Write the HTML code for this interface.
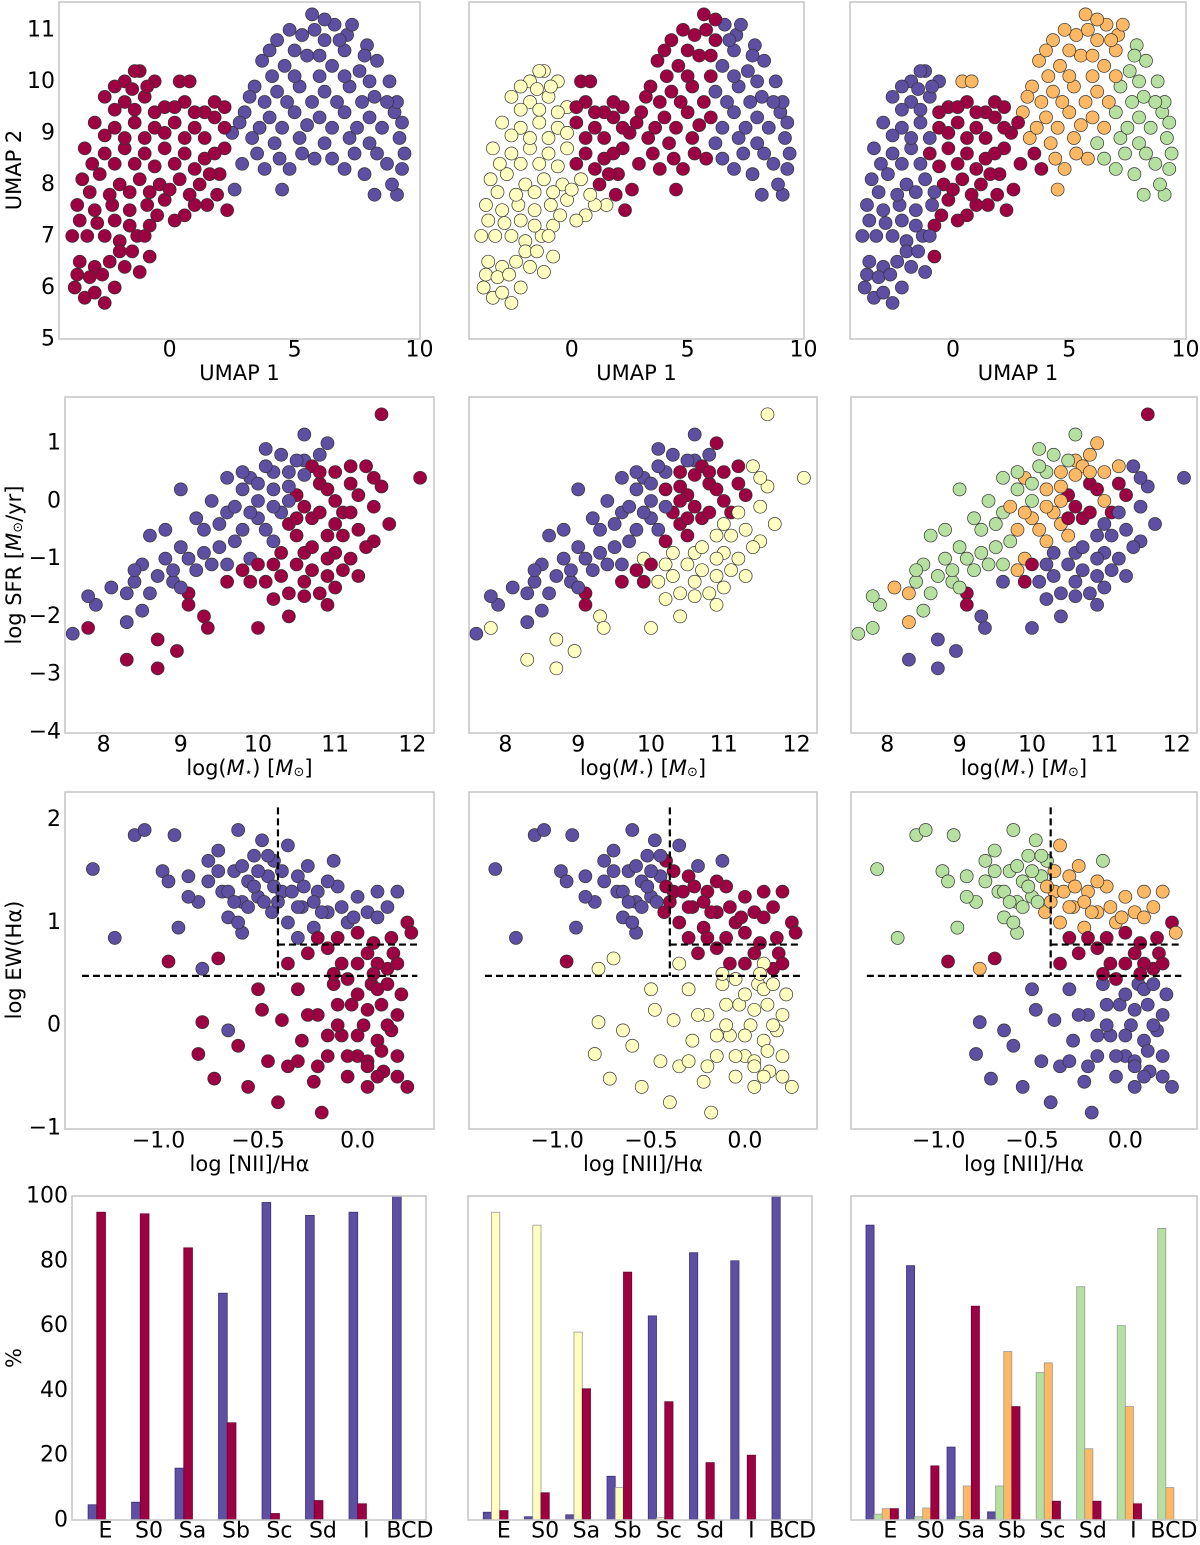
<!DOCTYPE html>
<html><head><meta charset="utf-8"><style>
html,body{margin:0;padding:0;background:#fff}
svg{display:block}
text{font-family:"DejaVu Sans","Liberation Sans",sans-serif;fill:#000}
</style></head><body>
<svg id="fig" width="1200" height="1545" viewBox="0 0 1200 1545" xmlns="http://www.w3.org/2000/svg"></svg>
<script>
// ---------- DATA ----------
const COLORS = {B:'#5e4fa2', R:'#9e0142', Y:'#ffffbf', G:'#b5e0a0', O:'#fdb863'};
// UMAP points: x, y, classes per column (col1,col2,col3)
const umapX = [-3.8,-3.4,-3.0,-2.6,-2.2,-3.6,-3.0,-2.4,-1.8,-1.2,-3.9,-3.3,-2.6,-2.0,-1.3,-0.8,-3.7,-3.0,-2.3,-1.6,-0.9,-0.2,0.6,1.5,2.3,-3.5,-2.8,-2.0,-1.2,-0.4,0.4,1.2,2.0,2.6,-3.4,-2.6,-1.8,-1.0,-0.2,0.6,1.4,2.2,-3.0,-2.2,-1.4,-0.6,0.2,1.0,1.8,2.5,-2.6,-1.8,-1.0,-0.2,0.6,1.4,2.2,-1.8,-1.2,-0.6,0.4,0.8,
4.5,8.2,9.1,2.9,3.8,4.8,5.8,7.0,7.8,8.7,9.3,3.3,4.2,5.2,6.2,7.2,8.0,9.2,3.0,4.0,5.0,6.0,7.0,8.0,9.0,3.4,4.3,5.2,6.2,7.2,8.2,9.1,3.7,4.6,5.5,6.5,7.6,8.3,4.3,5.3,6.2,7.1,7.9,5.7,6.6,7.3];
const umapY = [6.0,5.8,5.9,5.7,6.0,6.5,6.4,6.5,6.4,6.3,7.0,7.0,7.0,6.9,7.0,7.2,7.6,7.5,7.6,7.5,7.6,7.7,7.4,7.6,7.5,8.1,8.2,8.0,8.1,8.0,8.1,8.0,8.2,7.9,8.7,8.6,8.7,8.6,8.7,8.6,8.5,8.7,9.2,9.1,9.2,9.1,9.2,9.1,9.3,9.0,9.7,9.6,9.7,9.5,9.6,9.4,9.5,10.0,10.2,10.0,10.0,10.0,
7.9,7.8,7.8,8.4,8.3,8.3,8.5,8.3,8.2,8.4,8.3,8.9,8.8,8.9,8.8,8.9,8.8,8.9,9.4,9.3,9.4,9.3,9.4,9.3,9.4,9.9,9.8,9.9,9.8,9.9,9.7,9.6,10.4,10.3,10.5,10.3,10.2,10.4,10.8,10.9,10.8,10.9,10.7,11.3,11.1,11.1];
const umapC = ["RYB","RYB","RYB","RYB","RYB","RYB","RYB","RYB","RYB","RYB","RYB","RYB","RYB","RYB","RYB","RYR","RYB","RYB","RYB","RYB","RYB","RYR","RYR","RYR","RRR","RYB","RYB","RYB","RYB","RYR","RYR","RRR","RRR","BRR","RYB","RYB","RYB","RYR","RYR","RRR","RRR","RRR","RYB","RYB","RYB","RYR","RRR","RRR","RRR","BRR","RYB","RYB","RYB","RYR","RRR","RRR","RRR","RYB","RYB","RYB","RRO","RRO",
"BRO","BBG","BBG","BRR","BRR","BRO","BRO","BBG","BBG","BBG","BBG","BRO","BRO","BRO","BBG","BBG","BBG","BBG","BRO","BRO","BRO","BRO","BBG","BBG","BBG","BRO","BRO","BRO","BBO","BBG","BBG","BBG","BRO","BRO","BRO","BBO","BBG","BBG","BRO","BRO","BRO","BBO","BBG","BRO","BBO","BBO"];
const umapX2 = [-3.7,-3.2,-2.7,-2.0,-1.5,-0.8,-3.6,-2.9,-2.2,-1.6,-1.0,-0.5,0.2,1.0,1.9,-3.2,-2.4,-1.6,-0.8,0.0,0.8,1.6,-3.1,-2.2,-1.4,-0.6,0.2,1.0,1.8,-2.6,-1.8,-1.0,-0.2,0.6,1.4,2.2,-2.2,-1.4,-0.6,0.2,1.0,1.8,-2.2,-1.5,-0.9,-1.4,
3.5,4.4,5.3,6.5,7.4,8.3,8.9,9.4,3.6,4.5,5.5,6.5,7.5,8.5,9.3,3.8,4.7,5.7,6.7,7.7,8.7,4.1,5.0,6.0,7.0,8.0,8.8,4.0,5.0,6.0,7.0,7.8,4.8,5.8,6.8,6.2,3.2,2.8];
const umapY2 = [6.25,6.2,6.25,6.7,6.7,6.6,7.3,7.25,7.3,7.2,7.0,7.4,7.3,7.6,7.8,7.85,7.8,7.85,7.85,7.9,7.8,8.2,8.4,8.4,8.4,8.35,8.4,8.3,8.6,8.95,8.9,8.9,9.0,8.9,8.9,9.1,9.45,9.45,9.4,9.5,9.4,9.6,9.9,9.85,9.9,10.2,
8.6,8.5,8.6,8.5,8.6,8.6,8.0,8.6,9.1,9.1,9.15,9.1,9.1,9.1,9.2,9.6,9.6,9.6,9.6,9.6,9.6,10.1,10.1,10.1,10.1,10.0,10.0,10.6,10.6,10.5,10.6,10.5,11.0,11.0,10.8,11.2,9.7,9.2];
const umapC2 = ["RYB","RYB","RYB","RYB","RYB","RYR","RYB","RYB","RYB","RYB","RYB","RYR","RYR","RYR","RRR","RYB","RYB","RYB","RYB","RYR","RYR","RRR","RYB","RYB","RYB","RYR","RRR","RRR","RRR","RYB","RYB","RYB","RYR","RRR","RRR","RRR","RYB","RYB","RYR","RRR","RRR","RRR","RYB","RYB","RYB","RYB",
"BRR","BRO","BRO","BBG","BBG","BBG","BBG","BBG","BRO","BRO","BRO","BBO","BBG","BBG","BBG","BRO","BRO","BRO","BBO","BBG","BBG","BRO","BRO","BRO","BBO","BBG","BBG","BRO","BRO","BRO","BBO","BBG","BRO","BRO","BBO","BRO","BRO","BRR"];

// Mass - SFR points
const msX = [7.6,7.8,7.9,7.8,8.1,8.3,8.4,8.5,8.6,8.7,8.6,8.8,8.9,9.0,8.5,8.3,8.3,8.7,8.7,8.95,9.1,9.1,9.3,9.35,9.2,9.0,9.3,9.4,9.6,9.6,9.5,9.8,9.8,9.9,10.0,10.1,10.0,10.2,10.3,10.4,10.6,10.6,10.9,10.8,10.5,10.2,9.6,9.8,10.0,10.0,10.2,10.1,10.4,10.4,10.6,10.7,10.3,10.5,10.7,10.9,11.0,10.9,11.2,11.3,11.1,11.2,11.0,11.4,11.5,11.5,11.7,11.6,11.3,11.6,12.1,10.6,10.8,11.0,10.4,9.7,10.2,9.9,10.7];
const msY = [-2.3,-2.2,-1.8,-1.65,-1.5,-1.6,-1.4,-1.1,-1.6,-1.3,-0.6,-1.0,-1.4,-0.8,-1.9,-2.1,-2.75,-2.4,-2.9,-2.6,-1.6,-1.8,-2.0,-2.2,-1.2,0.2,-0.5,-1.1,-0.2,0.4,-0.8,0.2,-0.5,-1.0,0.0,0.9,-0.3,0.5,-0.2,0.5,1.15,0.7,1.0,0.3,0.1,-0.7,-1.4,-1.2,-1.1,-2.2,-1.7,-1.4,-1.6,-2.0,-1.65,-1.2,-0.9,-0.6,-0.3,-0.6,-0.9,-1.3,-1.0,-0.5,-0.2,0.3,0.5,0.6,-0.1,-0.7,-0.4,0.25,-1.3,1.5,0.4,-0.9,-1.6,0.0,0.0,-0.1,0.2,0.4,0.6];
const msC = ["BBG","RYG","BBG","BBG","BBO","BBO","BBG","BBG","BBG","BBG","BBG","BBG","BBG","BBG","BBG","BBO","RYB","RYB","RYB","RYB","RRR","RRR","RYB","RYB","BBG","BBG","BBG","BBG","BBG","BBG","BBG","BBG","BBO","BYO","BBG","BBG","BBO","BBG","BRO","BRO","BBG","BBO","BRO","RRR","RRR","BRO","RRB","RRO","RRR","RYB","RYB","RYB","RYB","RYB","RYB","RYB","RYB","RRO","RRR","RYB","RYB","RYB","RYB","RYB","RRR","RRR","RRO","RYB","RYB","RYB","RYB","RYB","RYB","RYR","RYB","RYB","RYB","RRO","BRO","BBO","BRO","BBO","RRO"];
const msX2 = [8.8,9.1,9.2,9.4,9.5,9.7,9.8,9.9,10.0,10.1,10.2,10.3,10.4,10.5,10.6,10.8,10.1,9.3,9.6,8.9,8.4,9.0,
10.4,10.6,10.8,10.9,10.7,10.9,11.1,11.0,11.2,11.3,10.5,10.3,10.6,10.9,11.1,11.4,10.8,11.2,11.5,9.9,10.2,11.0,10.5];
const msY2 = [-0.5,-1.0,-0.3,0.0,-0.4,-0.7,0.5,-0.2,0.3,0.6,-0.1,0.8,0.25,0.7,0.45,0.8,-0.5,-0.9,-1.1,-1.2,-1.2,-1.5,
-0.4,-0.1,-0.2,0.2,-0.8,-1.0,-0.6,-0.4,-0.2,0.1,-1.1,-1.3,-1.4,-1.8,-1.2,-0.8,0.5,0.6,0.4,-1.4,-1.1,-1.5,-0.3];
const msC2 = ["BBG","BBG","BBG","BBG","BBG","BBG","BBG","BBO","BBG","BBG","BBO","BBG","BRO","BBG","BRO","BBO","BBO","BBG","BBG","BBG","BBG","BBG",
"RRO","RRR","RRR","RRR","RYB","RYB","RYB","RYB","RYB","RRR","RYB","RYB","RYB","RYB","RYB","RYB","RRO","RRO","RYB","RRR","RYB","RYB","RRR"];

// BPT-like points
const bptX = [-1.33,-1.22,-1.12,-1.07,-0.98,-0.95,-0.92,-0.85,-0.8,-0.9,-0.78,-0.75,-0.7,-0.68,-0.65,-0.62,-0.6,-0.58,-0.55,-0.52,-0.5,-0.48,-0.45,-0.43,-0.42,-0.38,-0.35,-0.35,-0.3,-0.28,-0.25,-0.22,-0.2,-0.15,-0.12,-0.1,-0.05,0.0,0.05,0.1,0.15,0.2,0.25,-0.58,-0.7,-0.95,-0.78,-0.8,-0.72,-0.65,-0.6,-0.55,-0.5,-0.48,-0.45,-0.4,-0.38,-0.35,-0.3,-0.28,-0.25,-0.22,-0.2,-0.18,-0.15,-0.12,-0.1,-0.08,-0.05,-0.03,0.0,0.0,0.03,0.05,0.07,0.08,0.1,0.12,0.13,0.15,0.17,0.18,0.2,0.22,0.25,0.27,-0.3,-0.15,-0.05,0.1,-0.1,-0.2,0.05,-0.35];
const bptY = [1.52,0.85,1.85,1.9,1.5,1.4,1.85,1.45,1.2,0.95,0.55,1.6,1.7,1.3,1.05,1.5,1.9,1.2,1.4,1.65,1.25,1.8,1.45,1.1,1.6,1.3,1.75,1.0,1.45,1.15,1.55,0.95,1.3,1.1,1.6,1.35,1.0,1.25,1.1,1.3,1.15,1.3,1.0,0.9,0.65,0.62,0.03,-0.28,-0.52,-0.05,-0.2,-0.6,0.35,0.15,-0.35,-0.75,0.05,-0.4,0.35,-0.15,0.7,-0.55,0.1,-0.85,-0.3,0.4,0.85,-0.1,-0.5,0.2,0.6,-0.3,0.0,-0.6,0.4,0.8,-0.15,0.2,-0.45,0.55,-0.05,0.7,-0.3,0.3,-0.6,0.9,0.85,0.75,0.45,0.6,0.2,-0.4,-0.35,0.6];
const bptC = ["BBG","BBG","BBG","BBG","BBG","BBG","BBG","BBG","BBG","BBG","BYO","BBG","BBG","BBG","BBG","BBG","BBG","BBG","BBG","BBG","BBG","BBG","BBG","BRO","BRG","BRO","BBO","BRO","BRO","BRO","BBO","BRO","BRO","BRO","BBG","BRO","BRO","BRO","BRO","BRO","BRO","BRO","RRR","BBG","RYR","RRR","RYB","RYB","RYB","BYB","RYB","RYB","RYB","RYB","RYB","RYB","RYB","RYB","RYB","RYB","RRR","RYB","RYB","RYB","RYB","RYB","RRR","RYB","RYB","RYB","RRR","RYB","RYB","RYB","RYB","RRR","RYB","RYB","RYB","RRR","RYB","RRR","RYB","RYB","RYB","RRO","BRR","RRR","RYR","RYR","RYB","RYB","RYB","RYR"];
const bptX2 = [-0.75,-0.7,-0.65,-0.62,-0.58,-0.55,-0.52,-0.5,-0.47,-0.45,-0.42,-0.4,-0.38,-0.33,-0.3,-0.27,-0.22,-0.18,-0.15,-0.08,-0.02,0.1,-0.6,-0.85,
-0.1,0.0,0.05,0.1,0.15,0.2,0.12,0.0,-0.05,0.1,0.2,0.05,-0.15,-0.25,-0.3,0.15,0.2,0.05,-0.08,0.17,0.0,-0.2,0.08,-0.12];
const bptY2 = [1.4,1.5,1.3,1.2,1.55,1.15,1.35,1.5,1.2,1.65,1.35,1.2,1.5,1.3,1.15,1.35,1.2,1.1,1.4,1.15,1.05,1.05,1.0,1.25,
0.0,0.3,0.15,0.35,0.0,0.1,-0.25,-0.1,-0.3,-0.5,-0.5,-0.4,-0.1,0.1,-0.35,0.4,0.6,0.7,0.6,0.85,0.9,0.85,0.5,0.5];
const bptC2 = ["BBG","BBG","BBG","BBG","BBG","BBG","BBG","BBG","BBG","BBG","BRO","BRO","BRO","BRO","BRO","BRO","BRO","BRO","BRO","BRO","BRO","BRO","BBG","BBG",
"RYB","RYB","RYB","RYB","RYB","RYB","RYB","RYB","RYB","RYB","RYB","RYB","RYB","RYB","RYB","RYB","RRR","RRR","RRR","RRR","RRR","RRR","RYR","RYR"];

// Bar charts
const morphCats = ["E","S0","Sa","Sb","Sc","Sd","I","BCD"];
const bar1Blue = [4.7,5.5,16,70,98,94,95,100];
const bar1Red  = [95,94.5,84,30,2,6,5,0];
const bar2Blue = [2.4,1.0,1.6,13.5,63,82.5,80,100];
const bar2Yellow = [95,91,58,10,0.7,0,0,0];
const bar2Red  = [2.9,8.4,40.5,76.5,36.5,17.7,20,0];
const bar3Blue = [91,78.5,22.5,2.5,0,0,0,0];
const bar3Green = [1.8,1.0,1.0,10.5,45.5,72,60,90];
const bar3Orange = [3.5,3.7,10.5,52,48.5,22,35,10];
const bar3Red = [3.5,16.7,66,35,5.8,5.8,5,0];
const barTicks = [0,20,40,60,80,100];

// ---------- DRAW ----------
const NS = 'http://www.w3.org/2000/svg';
const svg = document.getElementById('fig');
function mk(tag, attrs, parent){
  const e = document.createElementNS(NS, tag);
  for (const k in attrs) e.setAttribute(k, attrs[k]);
  (parent||svg).appendChild(e);
  return e;
}
function txt(s, x, y, anchor, size, parent, rot){
  const t = mk('text', {x:x, y:y, 'text-anchor':anchor, 'font-size':size, 'dominant-baseline':'central'}, parent);
  if (rot) t.setAttribute('transform', 'rotate(-90 '+x+' '+y+')');
  t.textContent = s;
  return t;
}
function makeAxes(box, xlim, ylim){
  const [l,t,r,b] = box;
  return {
    sx: v => l + (v - xlim[0]) / (xlim[1]-xlim[0]) * (r-l),
    sy: v => b - (v - ylim[0]) / (ylim[1]-ylim[0]) * (b-t)
  };
}
function panel(name, box, xlim, ylim, xticks, xtickLabels, yticks, ytickLabels, xlabel, tickY, labelY){
  const g = mk('g', {});
  
  
  const ax = makeAxes(box, xlim, ylim);
  const [l,t,r,b] = box;
  const xt = mk('g', {}, g);
  
  
  xticks.forEach((v,i)=>{ txt(xtickLabels[i], ax.sx(v), tickY, 'middle', 22, xt); });
  if (yticks){
    const yt = mk('g', {}, g);
    
    
    yticks.forEach((v,i)=>{ txt(ytickLabels[i], l-4, ax.sy(v), 'end', 22, yt); });
  }
  if (xlabel){
    const xl = txt(xlabel, (l+r)/2, labelY, 'middle', 21, g);
    
    
  }
  return {g, ax, box};
}
function frame(p){
  const [l,t,r,b] = p.box;
  const f = mk('rect', {x:l, y:t, width:r-l, height:b-t, fill:'none', stroke:'#c4c4c4', 'stroke-width':1.5}, p.g);
  
  
}
function scatter(p, xs, ys, cs, col){
  const sg = mk('g', {}, p.g);
  
  
  xs.forEach((x,i)=>{
    const c = cs[i][col];
    const pt = mk('circle', {cx:p.ax.sx(x), cy:p.ax.sy(ys[i]), r:6.5, fill:COLORS[c], stroke:'#333', 'stroke-width':0.7}, sg);
    
    
  });
}
function bars(p, series, cols){
  const w = 0.2;
  series.forEach((vals, k)=>{
    vals.forEach((v,i)=>{
      const x0 = p.ax.sx(i + k*w), x1 = p.ax.sx(i + (k+1)*w);
      const y0 = p.ax.sy(v), yb = p.ax.sy(0);
      const br = mk('rect', {x:x0, y:y0, width:x1-x0, height:Math.max(0,yb-y0), fill:COLORS[cols[k]], stroke: cols[k]==='B'?'#3b2f7a':(cols[k]==='R'?'#6e0030':'#999'), 'stroke-width':0.8}, p.g);
      
      
    });
  });
}

// Row 1: UMAP
const umapXlim = [-4.43, 10.02], umapYlim = [5, 11.54];
const rowUmapBoxes = [[59,2,420,339],[469,2,804,339],[850,2,1186,339]];
rowUmapBoxes.forEach((bx,ci)=>{
  const p = panel('umap-panel-'+(ci+1), bx, umapXlim, umapYlim, [0,5,10], ['0','5','10'],
    ci===0?[5,6,7,8,9,10,11]:null, ['5','6','7','8','9','10','11'], 'UMAP 1', 350, 373);
  scatter(p, umapX.concat(umapX2), umapY.concat(umapY2), umapC.concat(umapC2), ci);
  frame(p);
});
// Row 2: mass-SFR
const msXlim = [7.5, 12.28], msYlim = [-4.02, 1.8];
const rowMsBoxes = [[65,397,434,733],[469,397,817,733],[851,397,1197,733]];
rowMsBoxes.forEach((bx,ci)=>{
  const p = panel('mass-sfr-panel-'+(ci+1), bx, msXlim, msYlim, [8,9,10,11,12], ['8','9','10','11','12'],
    ci===0?[-4,-3,-2,-1,0,1]:null, ['\u22124','\u22123','\u22122','\u22121','0','1'], '', 745, 768);
  const xl = mk('text', {x:(bx[0]+bx[2])/2, y:768, 'text-anchor':'middle', 'font-size':21, 'dominant-baseline':'central'}, p.g);
  
  
  xl.innerHTML = 'log(<tspan font-style="italic">M</tspan><tspan font-size="12" dy="4">\u22c6</tspan><tspan dy="-4">) [</tspan><tspan font-style="italic">M</tspan><tspan font-size="13" dy="4">\u2299</tspan><tspan dy="-4">]</tspan>';
  scatter(p, msX.concat(msX2), msY.concat(msY2), msC.concat(msC2), ci);
  frame(p);
});
// Row 3: BPT
const bptXlim = [-1.47, 0.384], bptYlim = [-1.01, 2.27];
const rowBptBoxes = [[65,792,434,1129],[469,792,817,1129],[851,792,1197,1129]];
rowBptBoxes.forEach((bx,ci)=>{
  const p = panel('bpt-panel-'+(ci+1), bx, bptXlim, bptYlim, [-1,-0.5,0], ['\u22121.0','\u22120.5','0.0'],
    ci===0?[-1,0,1,2]:null, ['\u22121','0','1','2'], 'log  [NII]/H\u03b1', 1141, 1164);
  scatter(p, bptX.concat(bptX2), bptY.concat(bptY2), bptC.concat(bptC2), ci);
  const ax = p.ax;
  const lines = [[-0.4,2.12,-0.4,0.48],[-1.385,0.48,0.3,0.48],[-0.4,0.785,0.3,0.785]];
  lines.forEach((L)=>{
    const ln = mk('line', {x1:ax.sx(L[0]), y1:ax.sy(L[1]), x2:ax.sx(L[2]), y2:ax.sy(L[3]), stroke:'#000', 'stroke-width':2.2, 'stroke-dasharray':'7,4'}, p.g);
    
    
  });
  frame(p);
});
// Row 4: bars
const barBoxes = [[72,1196,426,1520],[468,1196,812,1520],[851,1196,1197,1520]];
const barSeries = [[bar1Blue,bar1Red],[bar2Blue,bar2Yellow,bar2Red],[bar3Blue,bar3Green,bar3Orange,bar3Red]];
const barCols = [['B','R'],['B','Y','R'],['B','G','O','R']];
barBoxes.forEach((bx,ci)=>{
  const n = barSeries[ci].length;
  const xlim = [-0.37, 7 + n*0.2 + 0.37];
  const pos = morphCats.map((c,i)=> i + 0.2 + n*0.1);
  const p = panel('morphology-bars-'+(ci+1), bx, xlim, [0,100], pos, morphCats,
    ci===0?barTicks:null, barTicks.map(String), '', 1531, 0);
  bars(p, barSeries[ci], barCols[ci]);
  frame(p);
});
// Y axis titles
const yt1 = txt('UMAP 2', 14, 170, 'middle', 21, svg, true);


const yt2 = mk('text', {x:14, y:565, 'text-anchor':'middle', 'font-size':21, 'dominant-baseline':'central', transform:'rotate(-90 14 565)'});
yt2.innerHTML = 'log  SFR [<tspan font-style="italic">M</tspan><tspan font-size="13" dy="4">\u2299</tspan><tspan dy="-4">/yr]</tspan>';


const yt3 = txt('log  EW(H\u03b1)', 14, 960, 'middle', 21, svg, true);


const yt4 = txt('%', 14, 1358, 'middle', 21, svg, true);


</script>
</body></html>
